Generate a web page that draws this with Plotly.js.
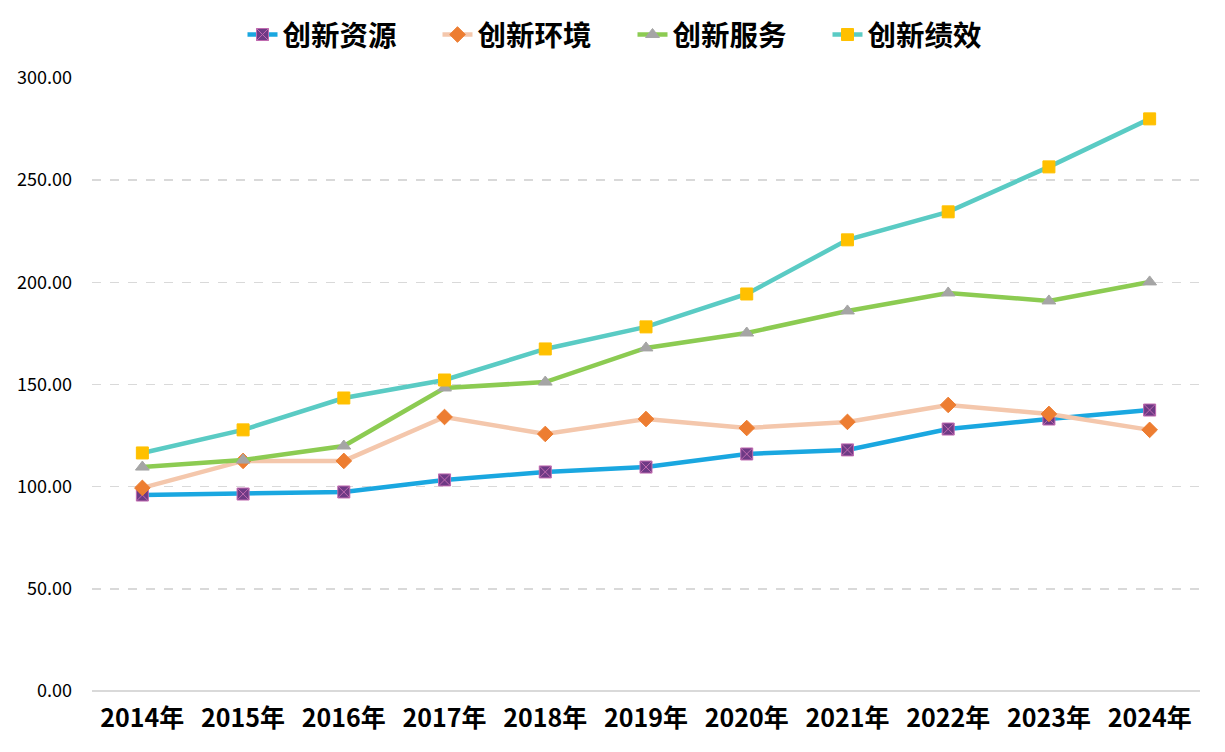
<!DOCTYPE html>
<html><head><meta charset="utf-8">
<script src="https://cdn.plot.ly/plotly-3.0.1.min.js"></script>
<style>html,body{margin:0;padding:0;background:#fff;}#chart{width:1225px;height:752px;}</style>
</head><body><div id="chart"></div>
<script>
const categories = ['2014年','2015年','2016年','2017年','2018年','2019年','2020年','2021年','2022年','2023年','2024年'];
const resources = [95.9, 96.4, 97.4, 103.3, 107.2, 109.6, 116.0, 118.0, 128.2, 133.1, 137.5];
const environment = [99.4, 112.6, 112.6, 134.1, 125.8, 133.1, 128.7, 131.7, 140.0, 135.6, 127.8];
const services = [109.6, 113.0, 119.9, 148.3, 151.2, 167.9, 175.2, 186.0, 194.8, 190.9, 200.2];
const performance = [116.5, 127.8, 143.4, 152.2, 167.4, 178.2, 194.3, 220.8, 234.5, 256.5, 280.0];
const seriesNames = ['创新资源','创新环境','创新服务','创新绩效'];
const yTicks = [0, 50, 100, 150, 200, 250, 300];

const FONT = '"Noto Sans CJK SC", "Noto Sans", sans-serif';
function tr(name, y, lineColor, sym, mColor, mLine, size) {
  return {type:'scatter', mode:'lines+markers', name:name, x:categories, y:y,
    line:{color:lineColor, width:4.5}, cliponaxis:false,
    marker:{symbol:sym, color:mColor, size:size, line:{color:mLine, width:1}}};
}
const data = [
  tr(seriesNames[0], resources, '#1AA7E0', 'square-x', '#6E3A85', '#C06AB0', 12),
  tr(seriesNames[1], environment, '#F4C7AC', 'diamond', '#ED7D31', '#ED7D31', 12),
  tr(seriesNames[2], services, '#8CCB52', 'triangle-up', '#A5A5A5', '#A5A5A5', 12),
  tr(seriesNames[3], performance, '#5ACBC4', 'square', '#FFC000', '#FFC000', 12)
];
const layout = {
  width:1225, height:752,
  margin:{l:92, r:25, t:78, b:61, autoexpand:false},
  paper_bgcolor:'#fff', plot_bgcolor:'#fff',
  font:{family:FONT, color:'#000'},
  showlegend:true,
  legend:{orientation:'h', x:0.5 + 20/1225, xanchor:'center', xref:'container',
    y:1-35/752, yanchor:'middle', yref:'container',
    font:{family:FONT, size:28.5, weight:'bold', color:'#000'},
    entrywidth:150, entrywidthmode:'pixels', traceorder:'normal'},
  xaxis:{type:'category', range:[-0.5,10.5], showgrid:false, zeroline:false,
    showline:false, ticks:'', tickfont:{family:FONT, size:25, weight:'bold', color:'#000'},
    ticklabelstandoff:10, fixedrange:true, automargin:false},
  yaxis:{range:[0,300], tickvals:yTicks, ticktext:yTicks.map(v=>v.toFixed(2)),
    showgrid:true, gridcolor:'#D9D9D9', griddash:'dash', gridwidth:1.5,
    zeroline:true, zerolinecolor:'#D9D9D9', zerolinewidth:1.5,
    showline:false, ticks:'', tickfont:{family:FONT, size:18, color:'#000'},
    ticklabelstandoff:19, fixedrange:true, automargin:false}
};
Plotly.newPlot('chart', data, layout, {displayModeBar:false, staticPlot:true});
</script></body></html>
